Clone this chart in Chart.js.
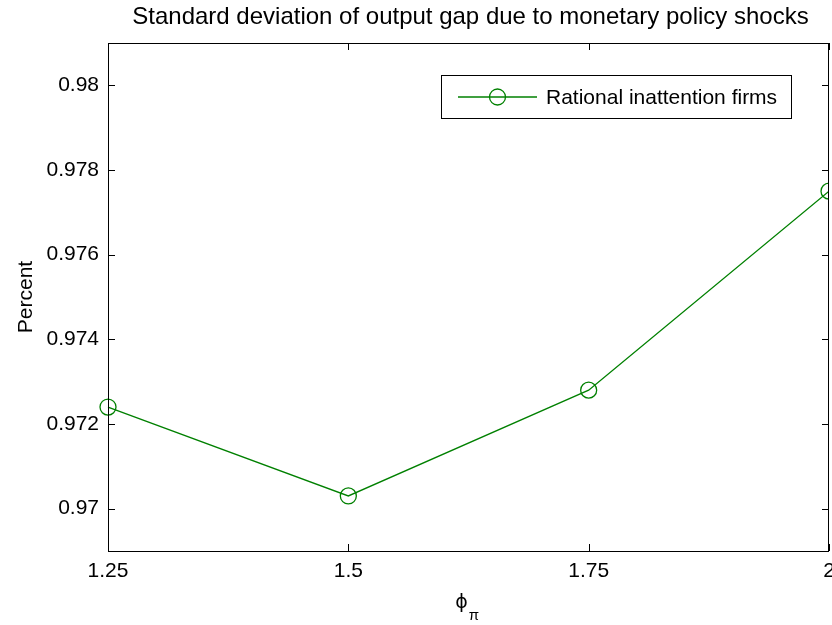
<!DOCTYPE html>
<html>
<head>
<meta charset="utf-8">
<script src="https://cdn.jsdelivr.net/npm/chart.js@4"></script>
<style>
  html, body { margin: 0; padding: 0; background: #fff; }
  #wrap { width: 832px; height: 625px; }
</style>
</head>
<body>
<div id="wrap"><canvas id="chart" width="832" height="625"></canvas></div>
<script>
// data
var phiValues = [1.25, 1.5, 1.75, 2];
var stdValues = [0.9724, 0.9703, 0.9728, 0.9775];
var xTicks = [1.25, 1.5, 1.75, 2];
var xTickLabels = ['1.25', '1.5', '1.75', '2'];
var yTicks = [0.97, 0.972, 0.974, 0.976, 0.978, 0.98];
var yTickLabels = ['0.97', '0.972', '0.974', '0.976', '0.978', '0.98'];
var seriesLabel = 'Rational inattention firms';
var chartTitle = 'Standard deviation of output gap due to monetary policy shocks';
var yTitle = 'Percent';

var FONT = '"Liberation Sans", Arial, Helvetica, sans-serif';
var GREEN = '#008000';

/**
 * MATLAB style frame: box, inward ticks, title, labels, legend
 */
var matlabFrame = {
    id: 'matlabFrame',
    afterDraw: function(chart) {
        var ctx = chart.ctx;
        var a = chart.chartArea;
        var xs = chart.scales.x;
        var ys = chart.scales.y;
        var tl = 7;

        ctx.save();
        ctx.strokeStyle = '#000';
        ctx.lineWidth = 1;

        // box
        ctx.strokeRect(a.left + 0.5, a.top + 0.5, a.right - a.left - 1, a.bottom - a.top);

        // ticks pointing inward, on all four sides
        ctx.beginPath();
        xTicks.forEach(function(v) {
            var px = Math.round(xs.getPixelForValue(v)) + 0.5;
            ctx.moveTo(px, a.bottom);
            ctx.lineTo(px, a.bottom - tl);
            ctx.moveTo(px, a.top);
            ctx.lineTo(px, a.top + tl);
        });
        yTicks.forEach(function(v) {
            var py = Math.round(ys.getPixelForValue(v)) + 0.5;
            ctx.moveTo(a.left, py);
            ctx.lineTo(a.left + tl, py);
            ctx.moveTo(a.right, py);
            ctx.lineTo(a.right - tl, py);
        });
        ctx.stroke();

        // title
        ctx.fillStyle = '#000';
        ctx.font = '24px ' + FONT;
        ctx.textAlign = 'center';
        ctx.textBaseline = 'alphabetic';
        ctx.fillText(chartTitle, (a.left + a.right) / 2 + 2, 23.5);

        // y label
        ctx.save();
        ctx.translate(31.5, (a.top + a.bottom) / 2);
        ctx.rotate(-Math.PI / 2);
        ctx.font = '21px ' + FONT;
        ctx.fillText(yTitle, 0, 0);
        ctx.restore();

        // x label: phi with subscript pi
        ctx.font = '19px "DejaVu Sans", ' + FONT;
        ctx.fillText('\u03D5', 461.5, 608);
        ctx.font = '15px ' + FONT;
        ctx.fillText('\u03C0', 474, 620);

        // legend
        var ds = chart.data.datasets[0];
        var lx = 441.5, ly = 75.5, lw = 350, lh = 43;
        ctx.fillStyle = '#fff';
        ctx.fillRect(lx, ly, lw, lh);
        ctx.strokeStyle = '#000';
        ctx.strokeRect(lx, ly, lw, lh);
        var cy = ly + lh / 2;
        ctx.strokeStyle = ds.borderColor;
        ctx.lineWidth = ds.borderWidth;
        ctx.beginPath();
        ctx.moveTo(458, cy);
        ctx.lineTo(537, cy);
        ctx.stroke();
        ctx.beginPath();
        ctx.arc(497.5, cy, ds.pointRadius, 0, Math.PI * 2);
        ctx.stroke();
        ctx.fillStyle = '#000';
        ctx.font = '21px ' + FONT;
        ctx.textAlign = 'left';
        ctx.textBaseline = 'middle';
        ctx.fillText(ds.label, 546, cy + 1);

        ctx.restore();
    }
};

var ctx = document.getElementById('chart').getContext('2d');

var chart = new Chart(ctx, {
    type: 'line',
    data: {
        datasets: [{
            label: seriesLabel,
            data: phiValues.map(function(x, i) {
                return { x: x, y: stdValues[i] };
            }),
            borderColor: GREEN,
            backgroundColor: 'rgba(0,0,0,0)',
            borderWidth: 1.3,
            tension: 0,
            fill: false,
            pointRadius: 8,
            pointBorderWidth: 1.3,
            pointBorderColor: GREEN,
            pointBackgroundColor: 'rgba(0,0,0,0)',
            clip: { left: false, top: false, right: 0, bottom: false }
        }]
    },
    plugins: [matlabFrame],
    options: {
        responsive: false,
        animation: false,
        devicePixelRatio: 1,
        layout: {
            autoPadding: false,
            padding: { top: 43, left: 0, right: 3, bottom: 0 }
        },
        plugins: {
            legend: { display: false },
            tooltip: { enabled: false },
            title: { display: false }
        },
        scales: {
            x: {
                type: 'linear',
                min: 1.25,
                max: 2,
                afterBuildTicks: function(scale) {
                    scale.ticks = xTicks.map(function(v) { return { value: v }; });
                },
                afterFit: function(scale) {
                    scale.height = 74;
                    scale.paddingLeft = 0;
                    scale.paddingRight = 0;
                },
                ticks: {
                    autoSkip: false,
                    maxRotation: 0,
                    padding: 8,
                    color: '#000',
                    font: { family: FONT, size: 21 },
                    callback: function(value, index) {
                        return xTickLabels[index];
                    }
                },
                grid: { display: false, drawTicks: false },
                border: { display: false }
            },
            y: {
                type: 'linear',
                min: 0.969,
                max: 0.981,
                afterBuildTicks: function(scale) {
                    scale.ticks = yTicks.map(function(v) { return { value: v }; });
                },
                afterFit: function(scale) {
                    scale.width = 108;
                    scale.paddingTop = 0;
                    scale.paddingBottom = 0;
                },
                ticks: {
                    autoSkip: false,
                    padding: 9,
                    color: '#000',
                    font: { family: FONT, size: 21 },
                    callback: function(value, index) {
                        return yTickLabels[index];
                    }
                },
                grid: { display: false, drawTicks: false },
                border: { display: false }
            }
        }
    }
});
</script>
</body>
</html>
